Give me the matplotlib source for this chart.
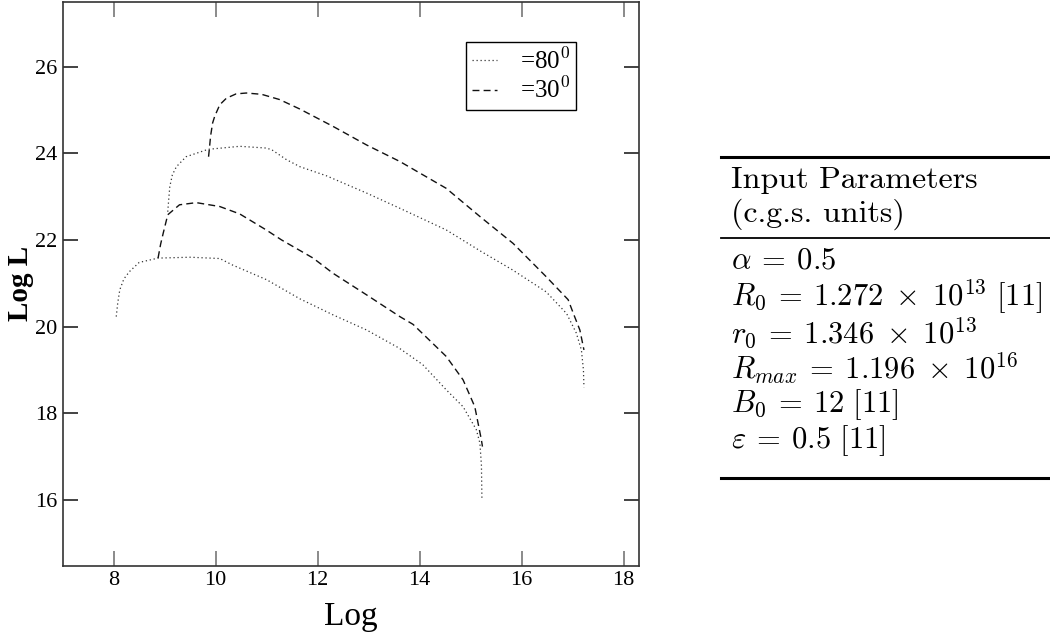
import matplotlib
matplotlib.use("Agg")
import matplotlib.pyplot as plt
from matplotlib.lines import Line2D

plt.rcParams["font.family"] = ["Liberation Serif", "DejaVu Serif"]
plt.rcParams["mathtext.fontset"] = "cm"

# theta = 80 deg, lower curve (dotted)
x_80_low = [8.05, 8.08, 8.12, 8.2, 8.31, 8.5, 8.87, 9.5, 10.08, 10.33, 11.0, 11.65,
            12.3, 12.96, 13.6, 14.06, 14.52, 14.85, 15.11, 15.18, 15.21, 15.22]
y_80_low = [20.23, 20.55, 20.85, 21.1, 21.27, 21.48, 21.58, 21.6, 21.57, 21.42, 21.08, 20.64,
            20.27, 19.92, 19.5, 19.12, 18.54, 18.15, 17.62, 17.31, 16.8, 16.0]

# theta = 30 deg, lower curve (dashed)
x_30_low = [8.87, 8.92, 8.97, 9.06, 9.29, 9.62, 10.08, 10.47, 10.99, 11.29, 11.91, 12.3,
            12.96, 13.61, 13.87, 14.52, 14.85, 15.08, 15.21, 15.23]
y_30_low = [21.58, 21.9, 22.15, 22.58, 22.81, 22.86, 22.77, 22.6, 22.23, 22.0, 21.58, 21.23,
            20.73, 20.23, 20.05, 19.31, 18.77, 18.15, 17.38, 17.23]

# theta = 80 deg, upper curve (dotted)
x_80_up = [9.06, 9.08, 9.1, 9.15, 9.23, 9.42, 9.85, 10.47, 10.99, 11.1, 11.39, 11.65,
           12.17, 12.96, 13.61, 14.52, 15.18, 15.83, 16.48, 16.88, 17.07, 17.17, 17.21, 17.22]
y_80_up = [22.65, 22.95, 23.23, 23.5, 23.69, 23.92, 24.09, 24.16, 24.12, 24.08, 23.85, 23.69,
           23.48, 23.08, 22.73, 22.23, 21.75, 21.3, 20.8, 20.3, 19.85, 19.46, 19.0, 18.6]

# theta = 30 deg, upper curve (dashed)
x_30_up = [9.86, 9.88, 9.9, 9.94, 9.98, 10.08, 10.21, 10.4, 10.6, 10.9, 11.25, 11.65, 12.3,
           12.96, 13.61, 14.52, 15.18, 15.83, 16.48, 16.91, 17.01, 17.14, 17.22]
y_30_up = [23.92, 24.15, 24.4, 24.7, 24.85, 25.12, 25.27, 25.37, 25.39, 25.36, 25.24, 25.02, 24.62,
           24.19, 23.81, 23.19, 22.54, 21.92, 21.15, 20.62, 20.31, 19.92, 19.46]

xticks = [8, 10, 12, 14, 16, 18]
yticks = [16, 18, 20, 22, 24, 26]

# table of input parameters
table_head = ["Input Parameters", "(c.g.s. units)"]
table_rows = [r"$\alpha\:=\:0.5$",
              r"$R_0\:=\:1.272\;\times\;10^{13}\ [11]$",
              r"$r_0\:=\:1.346\;\times\;10^{13}$",
              r"$R_{max}\:=\:1.196\;\times\;10^{16}$",
              r"$B_0\:=\:12\ [11]$",
              r"$\varepsilon\:=\:0.5\ [11]$"]

fig = plt.figure(figsize=(10.5, 6.34), dpi=100)
ax = fig.add_axes([0.0597, 0.1077, 0.5489, 0.8891])

dot = (0, (1.0, 2.2))
dash = (0, (5, 3))
ax.plot(x_80_low, y_80_low, color="#333333", lw=0.9, linestyle=dot, label=r"=80$^0$")
ax.plot(x_30_low, y_30_low, color="#111111", lw=1.0, linestyle=dash, label=r"=30$^0$")
ax.plot(x_80_up, y_80_up, color="#333333", lw=0.9, linestyle=dot)
ax.plot(x_30_up, y_30_up, color="#111111", lw=1.0, linestyle=dash)

ax.set_xlim(7.0, 18.3)
ax.set_ylim(14.48, 27.49)
ax.set_xticks(xticks)
ax.set_yticks(yticks)
ax.tick_params(axis="both", direction="in", length=11, width=1.2, labelsize=16, pad=4)
ax.tick_params(axis="x", top=True, color="#777777")
ax.tick_params(axis="y", right=True, color="#222222")
for s in ax.spines.values():
    s.set_linewidth(1.2)
    s.set_color("#333333")

W, H = 1050, 634
def fy(py):
    return 1 - py / H

# axis titles
fig.text(351 / W, fy(617), "Log", fontsize=24, ha="center", va="center")
fig.text(20 / W, fy(283), "Log L", fontsize=21, fontweight="bold", rotation=90,
         ha="center", va="center")

leg = ax.legend(loc="upper left", bbox_to_anchor=(0.70, 0.929), borderaxespad=0,
                fontsize=18, handlelength=1.0, handletextpad=0.9, labelspacing=0.15,
                borderpad=0.25, fancybox=False, framealpha=1)
leg.get_frame().set_edgecolor("black")
leg.get_frame().set_linewidth(1.0)

# table drawn in figure pixel coordinates
fig.add_artist(Line2D([721 / W, 1.0], [fy(157), fy(157)], color="black", lw=2.2))
fig.add_artist(Line2D([721 / W, 1.0], [fy(238), fy(238)], color="black", lw=1.3))
fig.add_artist(Line2D([721 / W, 1.0], [fy(478), fy(478)], color="black", lw=2.2))

head_y = [180, 214]
for t, py in zip(table_head, head_y):
    fig.text(731 / W, fy(py), t, family="cmr10", fontsize=23, va="center", ha="left")
row_y = [261, 297, 333, 369, 405, 441]
for t, py in zip(table_rows, row_y):
    fig.text(731 / W, fy(py), t, fontsize=22, va="center", ha="left")

fig.savefig("out.png", dpi=100)
